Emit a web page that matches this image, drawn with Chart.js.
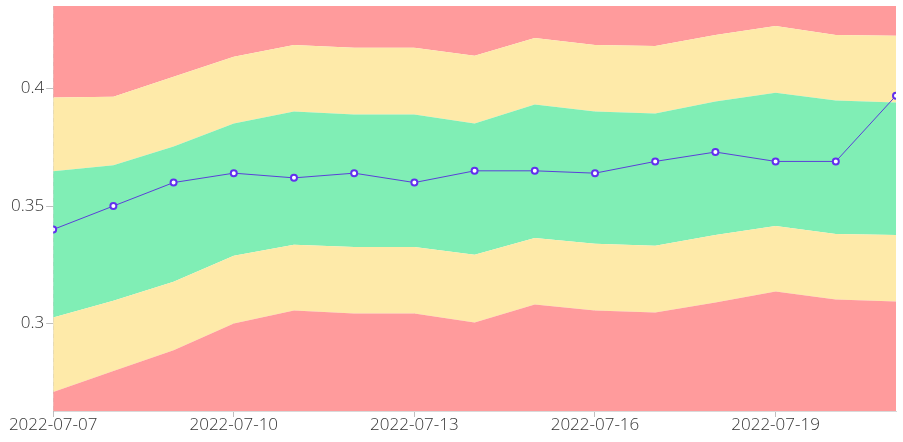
<!DOCTYPE html>
<html>
<head>
<meta charset="utf-8">
<script src="https://cdn.jsdelivr.net/npm/chart.js@4"></script>
<style>
  html, body { margin: 0; padding: 0; background: #fff; }
  #wrap { width: 903px; height: 442px; }
</style>
</head>
<body>
<div id="wrap"><canvas id="graph" width="903" height="442"></canvas></div>
<script>
// dates on the x axis
const dates = ['2022-07-07','2022-07-08','2022-07-09','2022-07-10','2022-07-11','2022-07-12','2022-07-13',
  '2022-07-14','2022-07-15','2022-07-16','2022-07-17','2022-07-18','2022-07-19','2022-07-20','2022-07-21']
const xTickIdx = [0, 3, 6, 9, 12]
const yTicks = [0.3, 0.35, 0.4]

// measured value (purple line)
const measured = [0.340, 0.350, 0.360, 0.364, 0.362, 0.364, 0.360, 0.365, 0.365, 0.364, 0.369, 0.373, 0.369, 0.369, 0.397]

// band boundaries, bottom to top
const lowRedTop = [0.2708, 0.2797, 0.2886, 0.3000, 0.3055, 0.3042, 0.3042, 0.3004, 0.3081, 0.3055, 0.3047, 0.3089, 0.3136, 0.3102, 0.3093]
const lowYellowTop = [0.3025, 0.3097, 0.3178, 0.3288, 0.3335, 0.3326, 0.3326, 0.3292, 0.3364, 0.3339, 0.3331, 0.3377, 0.3415, 0.3381, 0.3377]
const greenTop = [0.3648, 0.3674, 0.3754, 0.3852, 0.3903, 0.3890, 0.3890, 0.3852, 0.3932, 0.3903, 0.3894, 0.3945, 0.3983, 0.3949, 0.3941]
const highYellowTop = [0.3962, 0.3966, 0.4051, 0.4136, 0.4186, 0.4174, 0.4174, 0.4140, 0.4216, 0.4186, 0.4182, 0.4229, 0.4267, 0.4229, 0.4225]

const yMin = 0.2627
const yMax = 0.4352

const red = '#ff9b9c'
const yellow = '#feeaa9'
const green = '#80eeb5'

const pts = arr => arr.map((v, i) => ({ x: i, y: v }))

function band(data, fill, color) {
    return {
        data: pts(data),
        fill: fill,
        backgroundColor: color,
        borderWidth: 0,
        pointRadius: 0,
        tension: 0
    }
}

const ctx = document.querySelector('#graph').getContext('2d')
const gridColor = 'rgba(0,0,0,0.09)'
const tickFont = { family: 'Open Sans', size: 17, weight: 300 }

new Chart(ctx, {
    type: 'line',
    data: {
        datasets: [
            {
                data: pts(measured),
                borderColor: '#5a3fd8',
                borderWidth: 1,
                pointRadius: 3,
                pointBorderWidth: 2,
                pointBackgroundColor: '#ffffff',
                pointBorderColor: '#6230ee',
                fill: false,
                tension: 0
            },
            band(lowRedTop, 'start', red),
            band(lowYellowTop, '-1', yellow),
            band(greenTop, '-1', green),
            band(highYellowTop, '-1', yellow),
            band(highYellowTop, 'end', red)
        ]
    },
    options: {
        responsive: false,
        animation: false,
        layout: { padding: { top: 4, right: 7, left: 9, bottom: 0 } },
        plugins: {
            legend: { display: false },
            tooltip: { enabled: false }
        },
        scales: {
            x: {
                type: 'linear',
                min: 0,
                max: dates.length - 1,
                afterBuildTicks: axis => {
                    axis.ticks = xTickIdx.map(v => ({ value: v }))
                },
                afterFit: axis => { axis.height = 31 },
                grid: {
                    color: gridColor,
                    tickColor: 'rgba(0,0,0,0.25)',
                    tickLength: 6
                },
                border: { color: 'rgba(0,0,0,0.15)', dash: [4, 4] },
                ticks: {
                    maxRotation: 0,
                    autoSkip: false,
                    padding: -2,
                    color: '#333',
                    font: tickFont,
                    callback: v => dates[v]
                }
            },
            y: {
                min: yMin,
                max: yMax,
                afterBuildTicks: axis => {
                    axis.ticks = yTicks.map(v => ({ value: v }))
                },
                afterFit: axis => { axis.paddingTop = 0; axis.paddingBottom = 0 },
                grid: {
                    color: gridColor,
                    tickColor: 'rgba(0,0,0,0.25)',
                    tickLength: 7
                },
                border: { color: 'rgba(0,0,0,0.15)', dash: [4, 4] },
                ticks: {
                    padding: 2,
                    color: '#333',
                    font: tickFont,
                    callback: v => String(Math.round(v * 100) / 100)
                }
            }
        }
    }
})
</script>
</body>
</html>
